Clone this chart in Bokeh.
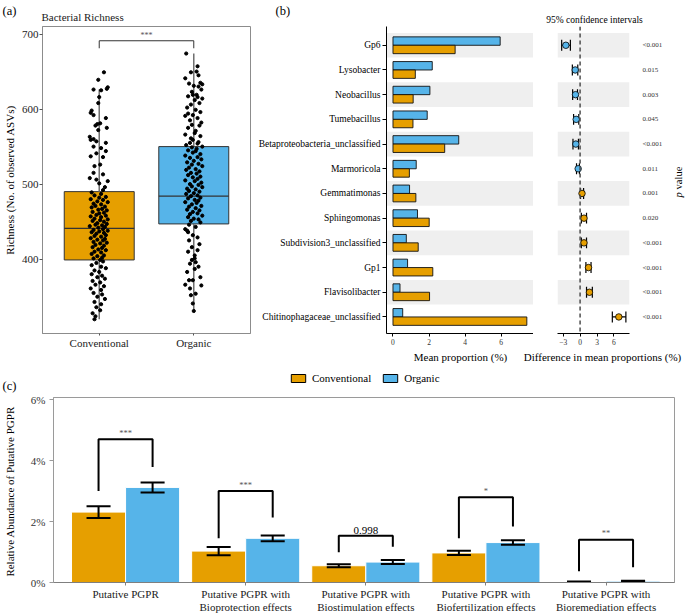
import math
from bokeh.plotting import figure
from bokeh.models import (ColumnDataSource, BoxAnnotation, Span, FixedTicker,
                          Legend, LegendItem, Range1d, PrintfTickFormatter)
from bokeh.layouts import row, column
from bokeh.embed import file_html
from bokeh.resources import INLINE
from bokeh.core.properties import value

FONT = "Liberation Serif"
ORANGE = "#E69F00"
BLUE = "#56B4E9"
STRIPE = "#efefef"

# ---------------- data: panel (a) ----------------
groups_a = ["Conventional", "Organic"]
box_q1 = [400, 448]
box_med = [442, 485]
box_q3 = [491, 551]
whisk_lo = [321, 332]
whisk_hi = [627, 675]
sig_a = "***"
sig_a_top = 692
sig_a_leg = 682

# (richness, horizontal jitter)
conv_points = [
    (650, 0.05), (640, -0.01), (630, 0.09), (628, 0.08), (627, -0.06), (626, 0.02), (617, 0.0),
    (609, -0.01), (599, -0.08), (596, -0.09), (593, -0.06), (589, 0.07), (582, 0.01), (581, -0.02),
    (579, -0.04), (576, 0.08), (573, -0.01), (564, -0.1), (561, -0.06), (560, -0.09), (558, -0.03),
    (556, 0.07), (551, -0.06), (549, 0.02), (545, 0.07), (542, -0.03), (538, -0.09), (537, 0.04),
    (527, 0.01), (525, -0.05), (516, -0.06), (514, 0.04), (509, -0.1), (507, -0.03), (505, 0.09),
    (502, 0.0), (497, 0.06), (493, 0.04), (490, -0.08), (488, 0.02),
    (486, -0.05), (484, 0.07), (483, 0.0), (481, -0.09), (480, 0.04), (478, -0.02), (477, 0.09),
    (475, -0.06), (474, 0.02), (472, -0.04), (471, 0.06), (470, -0.08), (468, 0.03), (467, -0.01),
    (466, 0.08), (464, -0.07), (463, 0.05), (462, 0.0), (460, -0.03), (459, 0.07), (458, -0.09),
    (457, 0.02), (455, -0.05), (454, 0.09), (453, 0.01), (452, -0.07), (451, 0.05), (449, -0.02),
    (448, 0.08), (447, -0.04), (446, 0.03), (445, -0.1), (444, 0.06), (443, -0.01), (441, 0.04),
    (440, -0.06), (439, 0.09), (438, 0.0), (437, -0.08), (436, 0.05), (435, -0.03), (433, 0.07),
    (432, -0.05), (431, 0.02), (429, -0.09), (428, 0.06), (427, -0.02), (426, 0.04), (424, -0.06),
    (423, 0.08), (422, 0.01), (420, -0.04), (419, 0.05), (417, -0.07), (416, 0.03), (414, -0.01),
    (413, 0.07), (411, -0.05), (410, 0.02), (408, -0.08), (406, 0.05), (405, -0.02), (403, 0.03),
    (402, -0.06), (400, 0.01),
    (398, 0.04), (396, -0.03), (393, -0.08), (391, 0.02), (389, 0.07), (386, -0.05), (384, 0.0),
    (381, -0.08), (379, 0.03), (377, -0.02), (375, 0.06), (372, -0.07), (370, 0.01), (367, -0.04),
    (365, 0.05), (362, -0.09), (360, 0.02), (356, -0.06), (354, 0.03), (351, -0.02), (348, 0.06),
    (344, -0.05), (341, 0.02), (337, -0.03), (333, 0.01), (329, -0.07), (325, -0.04), (321, -0.05),
]
org_points = [
    (675, -0.08), (658, 0.04), (651, 0.03), (650, -0.03), (646, 0.05), (642, -0.09), (636, 0.07),
    (635, -0.05), (634, 0.09), (632, 0.0), (631, 0.05), (627, 0.08), (624, -0.02), (620, 0.03),
    (620, -0.01), (618, -0.06), (617, 0.04), (615, 0.09), (613, 0.01), (609, 0.06), (607, -0.03),
    (603, -0.07), (600, 0.02), (597, 0.07), (595, -0.06), (593, -0.01), (592, -0.09), (589, 0.04),
    (586, -0.04), (583, 0.08), (580, -0.02), (579, 0.06), (576, -0.06), (572, 0.02), (569, 0.01),
    (567, -0.09), (565, 0.07), (562, -0.03), (560, -0.01), (557, 0.05), (556, -0.04), (555, 0.04),
    (553, -0.08), (551, 0.09), (550, -0.02),
    (548, 0.03), (546, -0.06), (545, 0.02), (543, -0.01), (541, 0.07), (539, -0.09), (537, 0.04),
    (536, -0.04), (534, 0.08), (532, 0.0), (530, -0.07), (528, 0.05), (527, -0.02), (525, 0.09),
    (523, -0.05), (521, 0.02), (520, -0.08), (518, 0.06), (516, -0.03), (515, 0.03), (513, -0.06),
    (511, 0.07), (510, -0.01), (508, 0.04), (506, -0.09), (505, 0.01), (503, 0.08), (501, -0.04),
    (500, 0.05), (498, -0.02), (497, 0.09), (495, -0.07), (494, 0.02), (492, -0.05), (491, 0.06),
    (489, 0.0), (488, -0.08), (486, 0.04), (485, -0.03), (483, 0.07), (482, -0.06), (480, 0.01),
    (479, 0.05), (477, -0.09), (476, 0.03), (474, -0.02), (472, 0.08), (471, -0.05), (469, 0.02),
    (467, -0.07), (466, 0.06), (464, -0.01), (462, 0.04), (461, -0.04), (459, 0.09), (457, -0.06),
    (455, 0.0), (454, 0.05), (452, -0.03), (450, 0.07),
    (447, -0.05), (444, 0.02), (441, -0.09), (439, -0.07), (437, -0.06), (433, -0.01), (430, 0.04),
    (426, -0.05), (421, 0.06), (417, -0.02), (413, 0.04), (411, -0.06), (406, 0.01), (402, 0.01),
    (400, -0.02), (397, 0.02), (395, -0.04), (391, 0.05), (388, 0.01), (384, -0.07), (377, 0.07),
    (373, -0.05), (373, -0.01), (367, -0.09), (366, 0.08), (362, -0.04), (355, 0.02), (353, -0.03),
    (342, -0.01), (332, 0.0),
]

# ---------------- data: panel (b) ----------------
taxa = ["Gp6", "Lysobacter", "Neobacillus", "Tumebacillus", "Betaproteobacteria_unclassified",
        "Marmoricola", "Gemmatimonas", "Sphingomonas", "Subdivision3_unclassified", "Gp1",
        "Flavisolibacter", "Chitinophagaceae_unclassified"]
mean_org = [5.95, 2.18, 2.05, 1.90, 3.65, 1.29, 0.92, 1.36, 0.74, 0.81, 0.39, 0.54]
mean_conv = [3.45, 1.24, 1.12, 1.11, 2.87, 0.91, 1.27, 2.01, 1.40, 2.21, 2.03, 7.43]
diff_est = [-2.52, -0.86, -0.81, -0.69, -0.75, -0.34, 0.34, 0.69, 0.69, 1.49, 1.66, 6.86]
diff_lo = [-3.26, -1.37, -1.32, -1.15, -1.26, -0.63, 0.08, 0.22, 0.22, 1.03, 1.14, 5.71]
diff_hi = [-1.72, -0.41, -0.46, -0.23, -0.29, -0.12, 0.62, 1.14, 1.14, 1.94, 2.17, 8.11]
p_values = ["<0.001", "0.015", "0.003", "0.045", "<0.001", "0.011", "0.001", "0.020",
            "<0.001", "<0.001", "<0.001", "<0.001"]

# ---------------- data: panel (c) ----------------
series_c = ["Conventional", "Organic"]
pgpr_cats = ["Putative PGPR",
             "Putative PGPR with\nBioprotection effects",
             "Putative PGPR with\nBiostimulation effects",
             "Putative PGPR with\nBiofertilization effects",
             "Putative PGPR with\nBioremediation effects"]
abund_conv = [2.31, 1.03, 0.55, 0.97, 0.02]
abund_org = [3.12, 1.45, 0.67, 1.31, 0.045]
se_conv = [0.19, 0.135, 0.05, 0.07, 0.01]
se_org = [0.165, 0.095, 0.065, 0.075, 0.01]
sig_c = ["***", "***", "0.998", "*", "**"]
brk_top = [4.70, 3.00, 1.53, 2.80, 1.40]
brk_left = [3.00, 1.45, 0.99, 1.45, 0.37]
brk_right = [3.79, 2.13, 1.17, 1.84, 0.50]


def base_fig(w, h, xr, yr, borders, **kw):
    l, r, t, b = borders
    p = figure(width=w, height=h, x_range=Range1d(*xr), y_range=Range1d(*yr),
               output_backend="svg", toolbar_location=None,
               min_border_left=l, min_border_right=r, min_border_top=t, min_border_bottom=b, **kw)
    p.grid.visible = False
    p.outline_line_color = None
    p.background_fill_color = "white"
    p.border_fill_color = "white"
    return p


def strip_fig(w, h, x0, x1, y0, y1, top=0, bottom=0):
    """Text-only strip; its frame maps to the picture's pixel coordinates (y downward)."""
    p = figure(width=w, height=h, x_range=Range1d(x0, x1), y_range=Range1d(-y1, -y0),
               output_backend="svg", toolbar_location=None,
               x_axis_location=None, y_axis_location=None,
               min_border_left=0, min_border_right=0, min_border_top=top, min_border_bottom=bottom)
    p.grid.visible = False
    p.outline_line_color = None
    p.background_fill_color = "white"
    p.border_fill_color = "white"
    return p


def stext(p, rx, ry, text, size, color="black", align="center", angle=0.0, style="normal"):
    p.text(x=[rx], y=[-ry], text=[text], text_font=value(FONT), text_font_size=f"{size}px",
           text_color=color, text_align=align, text_baseline="middle", angle=angle,
           text_font_style=value(style))


def style_axis(ax, size, color="#333333", line_color="#333333", tick_out=3, standoff=2):
    ax.major_label_text_font = FONT
    ax.major_label_text_font_size = size
    ax.major_label_text_color = color
    ax.axis_line_color = line_color
    ax.major_tick_line_color = line_color
    ax.major_tick_out = tick_out
    ax.major_tick_in = 0
    ax.minor_tick_line_color = None
    ax.major_label_standoff = standoff


def axis_title(ax, text, size, standoff):
    ax.axis_label = text
    ax.axis_label_text_font = FONT
    ax.axis_label_text_font_size = size
    ax.axis_label_text_font_style = "normal"
    ax.axis_label_text_color = "black"
    ax.axis_label_standoff = standoff


W = 685
TOP_Y0, TOP_Y1 = 24, 351          # picture rows of the top panels
TOP_H = TOP_Y1 - TOP_Y0
FT, FB = 2, 16                    # shared top / bottom borders of the top-row frames

# ================= header strip =================
head = strip_fig(W, TOP_Y0, 0, W, 0, TOP_Y0)
stext(head, 2, 10, "(a)", 12.5, align="left")
stext(head, 41, 16, "Bacterial Richness", 11, color="#1a1a1a", align="left")
stext(head, 275, 10, "(b)", 12.5, align="left")
stext(head, 594, 19, "95% confidence intervals", 9.5)

# ================= panel (a) =================
pa = base_fig(255, TOP_H, (0.4, 2.6), (302, 711), (41, 5, FT, FB))
pa.outline_line_color = "#8c8c8c"
xa = [1, 2]
hw = 0.37
pa.quad(left=[x - hw for x in xa], right=[x + hw for x in xa], bottom=box_q1, top=box_q3,
        fill_color=[ORANGE, BLUE], line_color="#333333", line_width=1)
pa.segment(x0=xa, y0=box_q3, x1=xa, y1=whisk_hi, line_color="#6e6e6e", line_width=1.5)
pa.segment(x0=xa, y0=whisk_lo, x1=xa, y1=box_q1, line_color="#6e6e6e", line_width=1.5)
pa.segment(x0=[x - hw for x in xa], y0=box_med, x1=[x + hw for x in xa], y1=box_med,
           line_color="#333333", line_width=1.2)
px = [xa[0] + d for _, d in conv_points] + [xa[1] + d for _, d in org_points]
py = [v for v, _ in conv_points] + [v for v, _ in org_points]
pa.scatter(px, py, size=3.2, color="black")
pa.line(x=[xa[0], xa[0], xa[1], xa[1]], y=[sig_a_leg, sig_a_top, sig_a_top, sig_a_leg],
        line_color="#333333", line_width=1)
pa.text(x=[(xa[0] + xa[1]) / 2], y=[sig_a_top + 1], text=[sig_a], text_font=value(FONT),
        text_font_size="8px", text_color="#555555", text_align="center", text_baseline="bottom")
pa.xaxis.ticker = FixedTicker(ticks=xa)
pa.xaxis.major_label_overrides = {x: g for x, g in zip(xa, groups_a)}
style_axis(pa.xaxis[0], "11px", color="#222222", line_color="#8c8c8c", tick_out=2, standoff=1)
pa.xaxis.major_tick_line_color = "#555555"
pa.yaxis.ticker = FixedTicker(ticks=[400, 500, 600, 700])
style_axis(pa.yaxis[0], "11px", color="#222222", line_color="#8c8c8c", tick_out=3, standoff=1)
pa.yaxis.major_tick_line_color = "#555555"
axis_title(pa.yaxis[0], "Richness (No. of observed ASVs)", "11px", 3)

# ================= panel (b) bars =================
n = len(taxa)
rows = [n - i for i in range(n)]
ROWS_Y = (0.33, 12.76)
pb = base_fig(278, TOP_H, (-0.36, 7.8), ROWS_Y, (131, 0, FT, FB))
for i, r in enumerate(rows):
    if i % 2 == 0:
        pb.add_layout(BoxAnnotation(bottom=r - 0.5, top=r + 0.5, fill_color=STRIPE, fill_alpha=1,
                                    line_color=None, level="underlay"))
bh = 0.34
pb.hbar(y=[r + bh / 2 for r in rows], height=bh, left=0, right=mean_org,
        fill_color=BLUE, line_color="#111111", line_width=0.9)
pb.hbar(y=[r - bh / 2 for r in rows], height=bh, left=0, right=mean_conv,
        fill_color=ORANGE, line_color="#111111", line_width=0.9)
pb.yaxis.ticker = FixedTicker(ticks=rows)
pb.yaxis.major_label_overrides = {r: t for r, t in zip(rows, taxa)}
style_axis(pb.yaxis[0], "9.5px", color="black", line_color="black", tick_out=4, standoff=2)
pb.xaxis.ticker = FixedTicker(ticks=[0, 2, 4, 6])
style_axis(pb.xaxis[0], "7.5px", color="#333333", line_color="black", tick_out=3, standoff=2)

# ================= panel (b) CI =================
pc = base_fig(132, TOP_H, (-4.0, 8.75), ROWS_Y, (24, 34, FT, FB), y_axis_location="right")
for i, r in enumerate(rows):
    if i % 2 == 0:
        pc.add_layout(BoxAnnotation(bottom=r - 0.5, top=r + 0.5, fill_color=STRIPE, fill_alpha=1,
                                    line_color=None, level="underlay"))
pc.add_layout(Span(location=0, dimension="height", line_color="#4d4d4d", line_width=1.5,
                   line_dash="4 3"))
cap = 0.22
pc.segment(x0=diff_lo, y0=rows, x1=diff_hi, y1=rows, line_color="black", line_width=1.2)
pc.segment(x0=diff_lo, y0=[r - cap for r in rows], x1=diff_lo, y1=[r + cap for r in rows],
           line_color="black", line_width=1.2)
pc.segment(x0=diff_hi, y0=[r - cap for r in rows], x1=diff_hi, y1=[r + cap for r in rows],
           line_color="black", line_width=1.2)
pc.scatter(x=diff_est, y=rows, size=6.5, line_color="black", line_width=0.8,
           fill_color=[BLUE if d < 0 else ORANGE for d in diff_est])
pc.yaxis.ticker = FixedTicker(ticks=rows)
pc.yaxis.major_label_overrides = {r: pv for r, pv in zip(rows, p_values)}
style_axis(pc.yaxis[0], "7px", color="#333333", line_color=None, tick_out=0, standoff=13)
pc.xaxis.ticker = FixedTicker(ticks=[-3, 0, 3, 6])
pc.xaxis.major_label_overrides = {-3: "\u22123"}
style_axis(pc.xaxis[0], "7.5px", color="#333333", line_color="black", tick_out=3, standoff=2)

# ================= right strip: "p value" =================
pr = strip_fig(20, TOP_H, 665, 685, TOP_Y0 + FT, TOP_Y1 - FB, top=FT, bottom=FB)
stext(pr, 678, 198, "p", 10.5, align="left", angle=math.pi / 2, style="italic")
stext(pr, 678, 190, "value", 10.5, align="left", angle=math.pi / 2)

# ================= middle strip =================
MID_Y0, MID_Y1 = TOP_Y1, 393
mid = strip_fig(W, MID_Y1 - MID_Y0, 0, W, MID_Y0, MID_Y1)
stext(mid, 460, 356, "Mean proportion (%)", 11)
stext(mid, 602, 356, "Difference in mean proportions (%)", 11)
stext(mid, 2, 385, "(c)", 12.5, align="left")
# legend swatch renderers: one point placed outside the strip so only the legend shows them
sw = ColumnDataSource(dict(x=[-100], y=[-100]))
r_lc = mid.rect(x="x", y="y", width=1, height=1, source=sw, fill_color=ORANGE, line_color="black")
r_lo = mid.rect(x="x", y="y", width=1, height=1, source=sw, fill_color=BLUE, line_color="black")
legend = Legend(items=[LegendItem(label=series_c[0], renderers=[r_lc]),
                       LegendItem(label=series_c[1], renderers=[r_lo])],
                orientation="horizontal", location=(289, 9), padding=0, margin=0,
                spacing=10, label_standoff=5, glyph_width=18, glyph_height=10,
                label_height=12, label_text_font=FONT, label_text_font_size="11px",
                label_text_color="black", border_line_color=None, background_fill_alpha=0)
mid.add_layout(legend)

# ================= panel (c) =================
pd_ = base_fig(W, 615 - MID_Y1, (0.4, 5.57), (0, 6.07), (53, 11, 4, 31))
pd_.outline_line_color = "#9a9a9a"
xs = list(range(1, len(pgpr_cats) + 1))
bw = 0.45
xc = [x - bw / 2 for x in xs]
xo = [x + bw / 2 for x in xs]
pd_.vbar(x=xc, width=bw, top=abund_conv, bottom=0, fill_color=ORANGE, line_color="white", line_width=1)
pd_.vbar(x=xo, width=bw, top=abund_org, bottom=0, fill_color=BLUE, line_color="white", line_width=1)
cw = 0.1
for xx, m, s in ((xc, abund_conv, se_conv), (xo, abund_org, se_org)):
    lo = [a - b for a, b in zip(m, s)]
    hi = [a + b for a, b in zip(m, s)]
    pd_.segment(x0=xx, y0=lo, x1=xx, y1=hi, line_color="black", line_width=2)
    pd_.segment(x0=[x - cw for x in xx], y0=lo, x1=[x + cw for x in xx], y1=lo, line_color="black", line_width=2)
    pd_.segment(x0=[x - cw for x in xx], y0=hi, x1=[x + cw for x in xx], y1=hi, line_color="black", line_width=2)
pd_.multi_line(xs=[[a, a, b, b] for a, b in zip(xc, xo)],
               ys=[[l, t, t, r] for l, t, r in zip(brk_left, brk_top, brk_right)],
               line_color="black", line_width=2)
is_star = [s.startswith("*") for s in sig_c]
pd_.text(x=xs, y=[t + 0.05 for t in brk_top], text=sig_c, text_font=value(FONT),
         text_font_size=["8.5px" if st else "11px" for st in is_star],
         text_color=["#555555" if st else "black" for st in is_star],
         text_align="center", text_baseline="bottom")
pd_.xaxis.ticker = FixedTicker(ticks=xs)
pd_.xaxis.major_label_overrides = {x: c for x, c in zip(xs, pgpr_cats)}
style_axis(pd_.xaxis[0], "11px", color="#1a1a1a", line_color="#7f7f7f", tick_out=3, standoff=2)
pd_.xaxis.major_label_text_line_height = 1.1
pd_.yaxis.ticker = FixedTicker(ticks=[0, 2, 4, 6])
pd_.yaxis.formatter = PrintfTickFormatter(format="%d%%")
style_axis(pd_.yaxis[0], "11px", color="#333333", line_color="#9a9a9a", tick_out=4, standoff=4)
axis_title(pd_.yaxis[0], "Relative Abundance of  Putative PGPR", "11px", 12)

layout = column(row(head), row(pa, pb, pc, pr), row(mid), row(pd_))
open("out.html", "w").write(file_html(layout, INLINE))
